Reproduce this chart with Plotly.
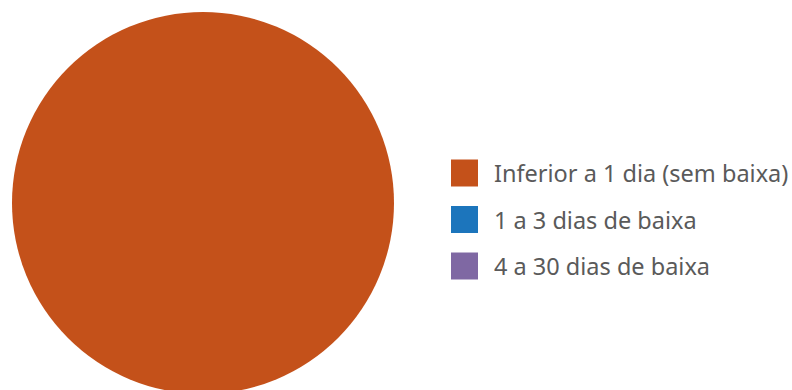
import plotly.graph_objects as go

labels = ["Inferior a 1 dia (sem baixa)", "1 a 3 dias de baixa", "4 a 30 dias de baixa"]
values = [100, 0, 0]
colors = ["#C4511A", "#1C75BC", "#7F68A3"]

W, H = 792, 396


def px_x(x):
    return x / W


def px_y(y):
    return 1 - y / H


fig = go.Figure()
fig.add_trace(go.Pie(
    labels=labels,
    values=values,
    marker=dict(colors=colors, line=dict(width=0)),
    textinfo="none",
    sort=False,
    direction="clockwise",
    showlegend=False,
    domain=dict(x=[px_x(12), px_x(394)], y=[px_y(394), px_y(12)]),
))

# legend drawn by hand so the swatches can be the large squares of the original
shapes = []
annotations = []
for i, (lab, col) in enumerate(zip(labels, colors)):
    cy = 173 + i * 46.5
    shapes.append(dict(
        type="rect", xref="paper", yref="paper",
        x0=px_x(451), x1=px_x(478), y0=px_y(cy + 13.5), y1=px_y(cy - 13.5),
        fillcolor=col, line=dict(width=0),
    ))
    annotations.append(dict(
        x=px_x(492), y=px_y(cy), xref="paper", yref="paper",
        text=lab, showarrow=False, xanchor="left", yanchor="middle",
        font=dict(family="Noto Sans", size=23.5, color="#5a5a5a"),
    ))

fig.update_layout(
    width=W, height=H,
    margin=dict(l=0, r=0, t=0, b=0),
    paper_bgcolor="white",
    plot_bgcolor="white",
    shapes=shapes,
    annotations=annotations,
)

fig.write_html("out.html", config={"displayModeBar": False},
               post_script="document.body.style.margin='0';")
